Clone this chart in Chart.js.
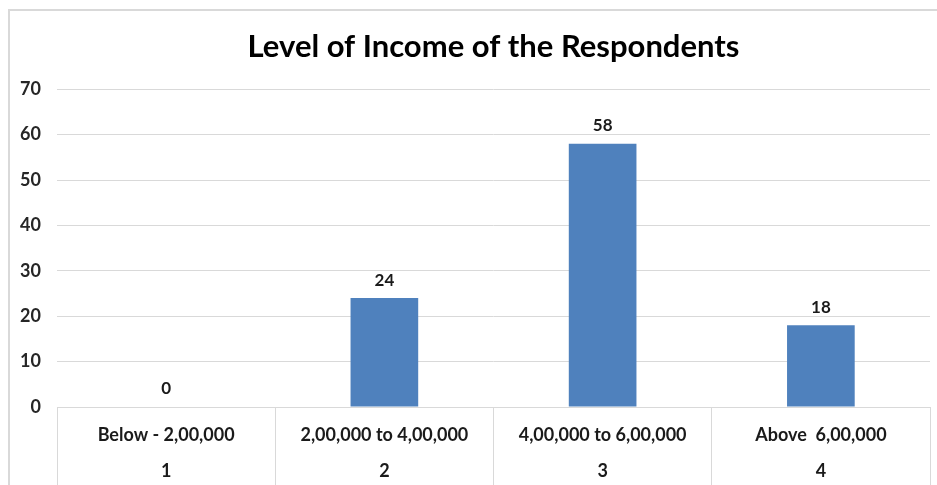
<!DOCTYPE html>
<html>
<head>
<meta charset="utf-8">
<script src="https://cdn.jsdelivr.net/npm/chart.js@4"></script>
<style>
  html, body { margin: 0; padding: 0; background: #fff; }
  #wrap { position: relative; width: 937px; height: 485px; }
  #frame {
    position: absolute; left: 8px; top: 9px; right: -4px; bottom: -4px;
    border-left: 2px solid #d9d9d9; border-top: 2px solid #d9d9d9;
    pointer-events: none;
  }
</style>
</head>
<body>
<div id="wrap">
  <canvas id="incomeChart" width="937" height="485"></canvas>
  <div id="frame"></div>
</div>
<script>
const incomeGroups = ["Below - 2,00,000", "2,00,000 to 4,00,000", "4,00,000 to 6,00,000", "Above  6,00,000"]
const groupCodes = ["1", "2", "3", "4"]
const respondents = [0, 24, 58, 18]
const yTicks = [0, 10, 20, 30, 40, 50, 60, 70]

const textFont = "Lato, 'Open Sans', sans-serif"

// writes each bar's value just above it
const valueLabels = {
  id: "valueLabels",
  afterDatasetsDraw(chart) {
    const ctx = chart.ctx
    const meta = chart.getDatasetMeta(0)
    ctx.save()
    ctx.font = "bold 17px " + textFont
    ctx.fillStyle = "#1a1a1a"
    ctx.textAlign = "center"
    ctx.textBaseline = "middle"
    meta.data.forEach((bar, i) => {
      ctx.fillText(String(respondents[i]), bar.x, bar.y - 18)
    })
    ctx.restore()
  },
}

new Chart(document.getElementById("incomeChart"), {
  type: "bar",
  data: {
    labels: incomeGroups.map((name, i) => [name, groupCodes[i]]),
    datasets: [
      {
        label: "Respondents",
        data: respondents,
        backgroundColor: "#4f81bd",
        borderWidth: 0,
        categoryPercentage: 1,
        barPercentage: 0.31,
      },
    ],
  },
  options: {
    responsive: false,
    animation: false,
    layout: { padding: { left: 0, right: 7, top: 0, bottom: 0 } },
    plugins: {
      legend: { display: false },
      tooltip: { enabled: false },
      title: {
        display: true,
        fullSize: false,
        text: "Level of Income of the Respondents",
        color: "#000",
        font: { family: textFont, size: 31, weight: "bold" },
        padding: { top: 28, bottom: 24 },
      },
    },
    scales: {
      y: {
        min: 0,
        max: 70,
        afterBuildTicks: (scale) => {
          scale.ticks = yTicks.map((v) => ({ value: v }))
        },
        afterFit: (scale) => {
          scale.width = 57
        },
        border: { display: false },
        grid: { color: "#d9d9d9", lineWidth: 1, drawTicks: false },
        ticks: {
          color: "#262626",
          padding: 16,
          font: { family: textFont, size: 18, weight: "bold" },
        },
      },
      x: {
        afterFit: (scale) => {
          scale.height = 78
        },
        border: { display: true, color: "#d9d9d9" },
        grid: {
          offset: true,
          drawOnChartArea: false,
          drawTicks: true,
          tickLength: 78,
          color: "#d9d9d9",
        },
        ticks: {
          color: "#1a1a1a",
          padding: -68,
          maxRotation: 0,
          autoSkip: false,
          font: { family: textFont, size: 18, weight: "bold", lineHeight: 2 },
        },
      },
    },
  },
  plugins: [valueLabels],
})
</script>
</body>
</html>
